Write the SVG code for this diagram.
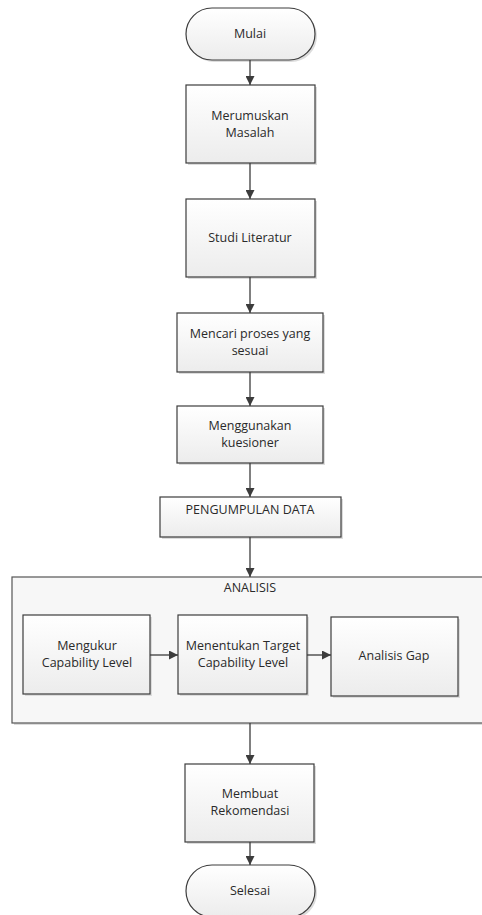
<svg xmlns="http://www.w3.org/2000/svg" width="482" height="915" viewBox="0 0 482 915">
<style>
.n{fill:url(#g);stroke:#3c3c3c;stroke-width:1.2}
.s{fill:#dcdcdc;stroke:none}
.c{fill:#f7f7f7;stroke:#555;stroke-width:1.2}
text{font-family:"Open Sans","Liberation Sans",sans-serif;font-size:12.5px;fill:#2a2a2a;text-anchor:middle}
.e{stroke:#3c3c3c;stroke-width:1.3;fill:none;marker-end:url(#a)}
</style>
<defs>
<linearGradient id="g" x1="0" y1="0" x2="0" y2="1"><stop offset="0" stop-color="#ffffff"/><stop offset="1" stop-color="#ececec"/></linearGradient>
<marker id="a" viewBox="0 0 10 10" refX="10" refY="5" markerWidth="9" markerHeight="9" markerUnits="userSpaceOnUse" orient="auto"><path d="M0,0L10,5L0,10z" fill="#3c3c3c"/></marker>
</defs>
<rect width="482" height="915" fill="#fff"/>
<g id="analisis">
<rect x="14" y="579" width="470" height="146" class="s"/>
<rect x="12" y="577" width="472" height="146" class="c"/>
<text x="250" y="592">ANALISIS</text>
</g>
<g id="mulai">
<rect x="188" y="10" width="129" height="52" rx="26" class="s"/>
<rect x="186" y="8" width="129" height="52" rx="26" class="n"/>
<text x="250" y="38">Mulai</text>
</g>
<g id="merumuskan">
<rect x="188" y="87" width="129" height="78" class="s"/>
<rect x="186" y="85" width="129" height="78" class="n"/>
<text x="250" y="120">Merumuskan</text>
<text x="250" y="137">Masalah</text>
</g>
<g id="studi">
<rect x="188" y="201" width="129" height="78" class="s"/>
<rect x="186" y="199" width="129" height="78" class="n"/>
<text x="250" y="242">Studi Literatur</text>
</g>
<g id="mencari">
<rect x="179" y="315" width="146" height="59" class="s"/>
<rect x="177" y="313" width="146" height="59" class="n"/>
<text x="250" y="338">Mencari proses yang</text>
<text x="250" y="355">sesuai</text>
</g>
<g id="menggunakan">
<rect x="179" y="408" width="146" height="57" class="s"/>
<rect x="177" y="406" width="146" height="57" class="n"/>
<text x="250" y="430">Menggunakan</text>
<text x="250" y="447">kuesioner</text>
</g>
<g id="pengumpulan">
<rect x="162" y="499" width="181" height="40" class="s"/>
<rect x="160" y="497" width="181" height="40" class="n"/>
<text x="250" y="514">PENGUMPULAN DATA</text>
</g>
<g id="mengukur">
<rect x="25" y="617" width="127" height="79" class="s"/>
<rect x="23" y="615" width="127" height="79" class="n"/>
<text x="87" y="650">Mengukur</text>
<text x="87" y="667">Capability Level</text>
</g>
<g id="menentukan">
<rect x="180" y="617" width="129" height="79" class="s"/>
<rect x="178" y="615" width="129" height="79" class="n"/>
<text x="243" y="650">Menentukan Target</text>
<text x="243" y="667">Capability Level</text>
</g>
<g id="gap">
<rect x="333" y="619" width="127" height="79" class="s"/>
<rect x="331" y="617" width="127" height="79" class="n"/>
<text x="394" y="660">Analisis Gap</text>
</g>
<g id="membuat">
<rect x="187" y="766" width="129" height="78" class="s"/>
<rect x="185" y="764" width="129" height="78" class="n"/>
<text x="250" y="798">Membuat</text>
<text x="250" y="815">Rekomendasi</text>
</g>
<g id="selesai">
<rect x="188" y="867" width="129" height="52" rx="26" class="s"/>
<rect x="186" y="865" width="129" height="52" rx="26" class="n"/>
<text x="250" y="895">Selesai</text>
</g>
<g id="connectors">
<line x1="250" y1="60" x2="250" y2="85" class="e"/>
<line x1="250" y1="163" x2="250" y2="199" class="e"/>
<line x1="250" y1="277" x2="250" y2="313" class="e"/>
<line x1="250" y1="372" x2="250" y2="406" class="e"/>
<line x1="250" y1="463" x2="250" y2="497" class="e"/>
<line x1="250" y1="537" x2="250" y2="577" class="e"/>
<line x1="150" y1="655" x2="178" y2="655" class="e"/>
<line x1="307" y1="655" x2="331" y2="655" class="e"/>
<line x1="250" y1="723" x2="250" y2="764" class="e"/>
<line x1="250" y1="842" x2="250" y2="865" class="e"/>
</g>
</svg>
